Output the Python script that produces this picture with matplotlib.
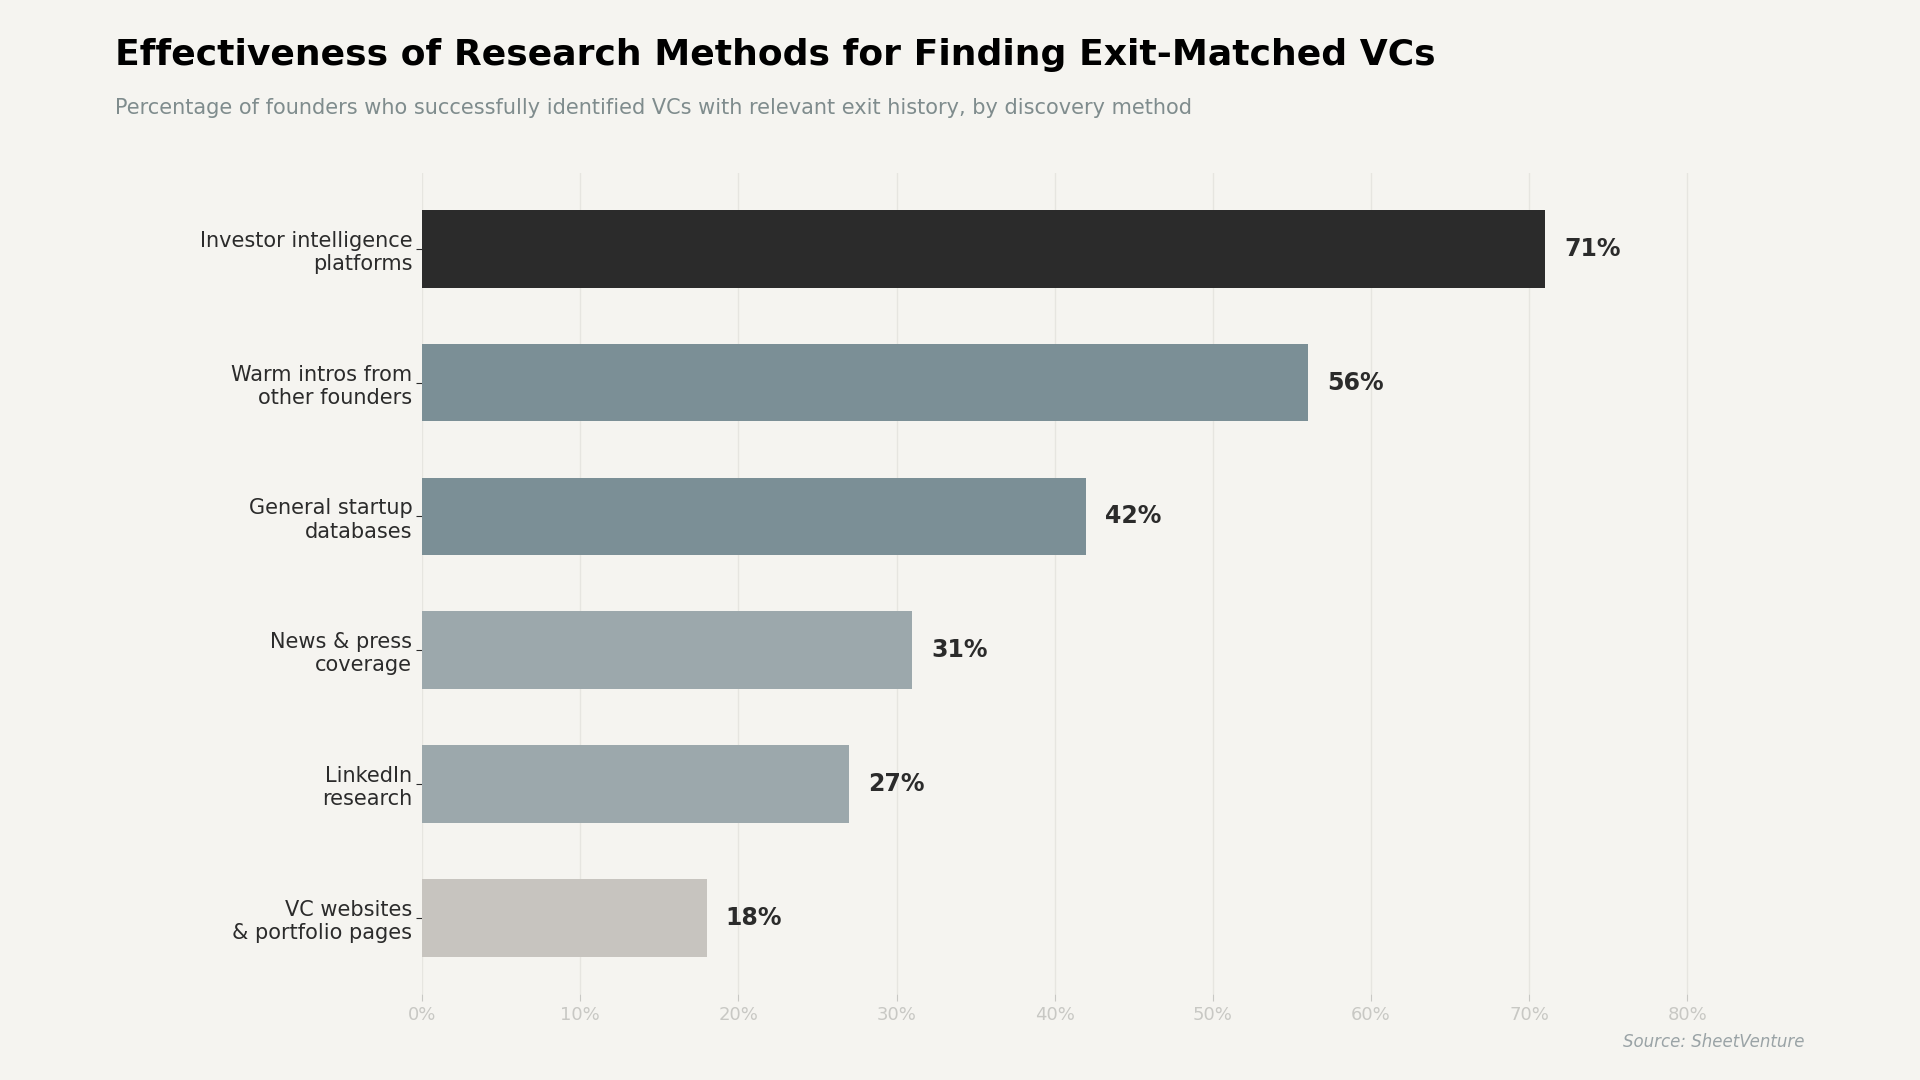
import matplotlib.pyplot as plt

# Data
methods = [
    "Investor intelligence\nplatforms",
    "Warm intros from\nother founders",
    "General startup\ndatabases",
    "News & press\ncoverage",
    "LinkedIn\nresearch",
    "VC websites\n& portfolio pages",
]
success_pct = [71, 56, 42, 31, 27, 18]
bar_colors = ["#2b2b2b", "#7b8f96", "#7b8f96", "#9ca8ac", "#9ca8ac", "#c7c4bf"]
x_ticks = [0, 10, 20, 30, 40, 50, 60, 70, 80]

bg = "#f5f4f0"

fig = plt.figure(figsize=(19.2, 10.8), dpi=100)
fig.patch.set_facecolor(bg)
ax = fig.add_axes([0.2198, 0.0796, 0.725, 0.7605])
ax.set_facecolor(bg)

y = list(range(len(methods)))
ax.barh(y, success_pct, height=0.58, color=bar_colors, zorder=3)
ax.invert_yaxis()

for yi, v in zip(y, success_pct):
    ax.text(v + 1.2, yi, f"{v}%", va="center", ha="left",
            fontsize=17, fontweight="bold", color="#2b2b2b")

ax.set_xlim(0, 88)
ax.set_xticks(x_ticks)
ax.set_xticklabels([f"{t}%" for t in x_ticks])
ax.set_yticks(y)
ax.set_yticklabels(methods, fontsize=15, color="#2b2b2b")

ax.tick_params(axis="x", colors="#c8c8c4", labelsize=13, length=5, width=0.8)
ax.tick_params(axis="y", length=4, width=0.8, color="#2b2b2b", pad=3)
ax.grid(axis="x", color="#e6e5e0", linewidth=1, zorder=0)
for s in ax.spines.values():
    s.set_visible(False)

fig.text(0.06, 0.949, "Effectiveness of Research Methods for Finding Exit-Matched VCs",
         fontsize=26, fontweight="bold", color="#000000", va="center", ha="left")
fig.text(0.06, 0.9003, "Percentage of founders who successfully identified VCs with relevant exit history, by discovery method",
         fontsize=15, color="#7f8c8d", va="center", ha="left")
fig.text(0.94, 0.035, "Source: SheetVenture", fontsize=12, style="italic",
         color="#9aa3a6", ha="right", va="center")

fig.savefig("out.png", dpi=100, facecolor=bg)
